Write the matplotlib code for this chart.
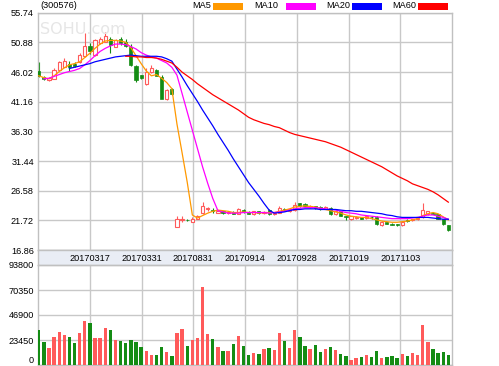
import numpy as np
import matplotlib
matplotlib.use("Agg")
import matplotlib.pyplot as plt

# ---------------- data ----------------
title = "(300576)"
date_labels = ["20170317", "20170331", "20170831", "20170914", "20170928", "20171019", "20171103"]
price_ticks = [55.74, 50.88, 46.02, 41.16, 36.30, 31.44, 26.58, 21.72, 16.86]
vol_ticks = [0, 23450, 46900, 70350, 93800]

opens = [46.2, 45.2, 44.7, 44.9, 46.4, 46.9, 47.4, 47.4, 47.7, 48.6,
         50.3, 48.8, 50.7, 51.0, 51.5, 50.2, 51.4, 51.0, 50.2, 47.0,
         45.5, 44.0, 46.1, 46.3, 45.2, 41.6, 43.2, 20.7, 21.7, 21.85,
         21.5, 22.0, 22.9, 23.5, 23.4, 23.0, 23.2, 22.9, 23.1, 22.8,
         23.4, 23.1, 22.7, 23.2, 22.9, 23.4, 22.7, 23.0, 23.6, 23.2,
         23.4, 24.5, 24.4, 23.9, 24.0, 23.9, 23.6, 23.8, 22.7, 23.2,
         22.4, 21.9, 22.1, 22.2, 22.1, 22.3, 22.3, 20.9, 21.4, 21.2,
         21.1, 20.9, 21.8, 21.7, 21.9, 22.2, 22.7, 23.0, 22.7, 21.9,
         20.9]
closes = [45.4, 44.9, 45.0, 46.4, 47.7, 47.9, 46.9, 47.0, 48.8, 50.3,
          49.5, 51.3, 51.5, 51.9, 50.4, 51.3, 50.8, 50.3, 47.2, 44.7,
          45.1, 46.1, 46.7, 45.4, 41.6, 43.0, 42.5, 21.9, 21.9, 21.7,
          22.0, 22.4, 24.0, 23.7, 23.25, 23.2, 22.9, 23.1, 22.8, 23.5,
          23.1, 22.8, 23.2, 22.9, 23.1, 22.7, 23.0, 23.8, 23.4, 23.5,
          24.3, 24.1, 24.1, 24.1, 23.7, 23.5, 23.9, 22.7, 23.2, 22.5,
          22.2, 22.4, 22.3, 22.0, 22.4, 22.2, 21.1, 21.5, 21.2, 21.0,
          20.9, 21.5, 21.6, 21.9, 22.1, 23.4, 23.2, 22.8, 22.0, 21.1,
          20.2]
highs = [47.7, 45.4, 45.2, 46.6, 47.9, 48.3, 47.9, 47.6, 49.1, 52.4,
         50.7, 51.5, 51.8, 52.5, 51.8, 51.5, 51.8, 51.4, 50.6, 47.2,
         45.6, 46.7, 47.1, 46.5, 45.6, 43.3, 43.4, 22.4, 22.5, 21.9,
         22.2, 22.6, 24.8, 23.9, 23.7, 23.3, 23.3, 23.3, 23.2, 23.7,
         23.5, 23.2, 23.3, 23.3, 23.2, 23.5, 23.1, 24.0, 23.7, 23.6,
         24.7, 24.6, 24.5, 24.2, 24.1, 24.0, 24.1, 23.9, 23.3, 23.3,
         22.5, 22.5, 22.4, 22.3, 22.5, 22.4, 22.4, 21.6, 21.5, 21.3,
         21.2, 21.6, 21.9, 22.0, 22.2, 24.5, 23.3, 23.1, 22.8, 22.0,
         21.0]
lows = [45.2, 44.7, 44.6, 44.8, 46.3, 46.8, 46.2, 46.8, 47.5, 48.4,
        49.0, 48.6, 50.6, 50.9, 49.1, 50.1, 50.4, 50.2, 47.0, 44.4,
        44.9, 43.9, 45.9, 45.6, 41.7, 41.5, 42.2, 20.6, 21.4, 21.6,
        21.4, 21.9, 22.8, 23.3, 22.9, 22.9, 22.8, 22.8, 22.7, 22.7,
        23.0, 22.7, 22.6, 22.8, 22.8, 22.6, 22.6, 22.9, 23.2, 23.1,
        23.3, 23.9, 24.0, 23.8, 23.6, 23.4, 23.5, 22.6, 22.6, 22.4,
        21.7, 21.8, 21.9, 21.9, 22.0, 22.0, 21.0, 20.8, 21.1, 20.9,
        20.8, 20.8, 21.5, 21.6, 21.8, 22.1, 22.6, 22.7, 21.9, 21.0,
        19.9]
volumes = [32800, 21300, 15600, 26600, 31300, 28100, 26600, 20300, 30300, 41300,
           39700, 25600, 25000, 34400, 32800, 23500, 22800, 20300, 23500, 21900,
           16600, 13100, 9400, 9400, 17200, 12500, 8400, 29700, 33500, 18100,
           23500, 25000, 73000, 29100, 24400, 17200, 13100, 13100, 19400, 27200,
           18100, 9400, 11600, 10000, 15300, 16300, 14100, 30300, 22800, 16300,
           32800, 26600, 17800, 15300, 18400, 12500, 15300, 16900, 14100, 10600,
           8400, 4700, 6300, 7800, 9100, 7800, 13400, 6300, 7800, 8400,
           6300, 10000, 8400, 11600, 9400, 37500, 21600, 14700, 11600, 12200,
           9400]
nan = np.nan
ma5 = [45.4, 45.1, 44.9, 45.4, 46.1, 46.7, 47.2, 47.4, 47.7, 48.4,
       49.1, 49.9, 50.6, 51.1, 51.2, 51.2, 51.1, 50.9, 50.0, 48.7,
       47.4, 46.2, 45.4, 45.6, 45.0, 44.3, 43.3, 37.5, 32.8, 28.0,
       22.6, 22.1, 22.5, 22.9, 23.2, 23.4, 23.3, 23.2, 23.0, 23.0,
       23.1, 23.0, 23.0, 22.9, 23.0, 23.0, 23.0, 23.2, 23.4, 23.6,
       23.9, 24.0, 24.1, 24.0, 23.9, 23.7, 23.5, 23.3, 23.1, 22.9,
       22.6, 22.4, 22.3, 22.2, 22.2, 22.0, 21.8, 21.6, 21.5, 21.4,
       21.4, 21.5, 21.6, 21.8, 22.0, 22.5, 22.8, 23.0, 22.8, 22.3,
       21.8]
ma10 = [nan, 44.9, 45.0, 45.3, 45.6, 45.9, 46.1, 46.3, 46.6, 47.2,
        47.9, 48.7, 49.4, 49.9, 50.3, 50.6, 50.6, 50.5, 50.2, 49.8,
        49.2, 48.8, 48.5, 48.3, 47.9, 47.5, 46.8, 45.5, 42.5, 39.5,
        36.5, 33.5, 30.5, 27.8, 25.3, 23.3, 23.1, 22.9, 22.9, 22.9,
        23.0, 23.0, 23.0, 23.0, 23.0, 22.9, 23.0, 23.1, 23.2, 23.4,
        23.6, 23.7, 23.8, 23.8, 23.8, 23.7, 23.6, 23.5, 23.4, 23.2,
        23.0, 22.9, 22.8, 22.6, 22.5, 22.4, 22.3, 22.2, 22.1, 22.0,
        22.0, 22.0, 22.0, 22.1, 22.2, 22.4, 22.6, 22.6, 22.4, 22.2,
        21.9]
ma20 = [nan, nan, nan, nan, nan, nan, 46.6, 46.8, 47.0, 47.2,
        47.4, 47.7, 47.9, 48.1, 48.3, 48.5, 48.6, 48.7, 48.8, 48.7,
        48.6, 48.6, 48.6, 48.6, 48.5, 48.2, 47.8, 46.5, 45.2, 43.8,
        42.5, 41.2, 39.8, 38.5, 37.2, 35.8, 34.5, 33.2, 31.8, 30.5,
        29.2, 27.9, 26.8, 25.7, 24.5, 23.4, 22.9, 23.0, 23.1, 23.3,
        23.5, 23.5, 23.6, 23.6, 23.6, 23.5, 23.5, 23.5, 23.5, 23.4,
        23.3, 23.3, 23.2, 23.2, 23.1, 23.0, 22.9, 22.8, 22.6, 22.5,
        22.3, 22.2, 22.2, 22.2, 22.2, 22.2, 22.2, 22.1, 22.0, 21.9,
        21.9]
ma60 = [nan, nan, nan, nan, nan, nan, nan, nan, nan, nan,
        nan, nan, nan, nan, nan, nan, nan, 48.6, 48.6, 48.5,
        48.5, 48.4, 48.4, 48.3, 48.1, 47.8, 47.5, 46.8, 46.0, 45.4,
        44.8, 44.1, 43.5, 42.9, 42.3, 41.8, 41.3, 40.8, 40.3, 39.8,
        39.2, 38.6, 38.2, 37.9, 37.6, 37.4, 37.1, 36.9, 36.5, 36.1,
        35.8, 35.6, 35.4, 35.2, 35.0, 34.8, 34.6, 34.3, 34.0, 33.7,
        33.3, 32.9, 32.5, 32.1, 31.7, 31.3, 30.9, 30.5, 30.0, 29.5,
        29.0, 28.6, 28.2, 27.7, 27.4, 27.1, 26.8, 26.4, 25.9, 25.3,
        24.7]
ma_names = ["MA5", "MA10", "MA20", "MA60"]

# ---------------- style ----------------
W, H = 499, 366
RED = "#ff5a5a"
GREEN = "#148c14"
GRID = "#c8c8c8"
FRAME = "#c0c0c0"
MA_COLORS = ["#ff9900", "#ff00ff", "#0000ff", "#ff0000"]
FONT = "Liberation Sans"
FS = 6.6

fig = plt.figure(figsize=(W / 100, H / 100), dpi=100)
fig.patch.set_facecolor("white")

def fx(px):
    return px / W

def fy(py):
    return 1 - py / H

L, R = 38, 452
P_TOP, P_BOT = 12.7, 250
V_TOP, V_BOT = 265, 365

n = len(closes)
x = np.arange(n)
XLIM = (-0.14, 80.72)
grid_x = np.linspace(XLIM[0], XLIM[1], 9)[1:-1]

ax = fig.add_axes([fx(L), fy(P_BOT), fx(R - L), (P_BOT - P_TOP) / H])
axb = fig.add_axes([fx(L), fy(V_TOP), fx(R - L), (V_TOP - P_BOT) / H])
axv = fig.add_axes([fx(L), fy(V_BOT), fx(R - L), (V_BOT - V_TOP) / H])

for a in (ax, axb, axv):
    a.set_xlim(*XLIM)
    for s in a.spines.values():
        s.set_color(FRAME)
        s.set_linewidth(1.0)
    a.tick_params(length=0, labelsize=FS, colors="black", pad=3)
    a.set_xticks([])

# price panel
ax.set_ylim(price_ticks[-1], price_ticks[0])
ax.set_yticks(price_ticks)
ax.set_yticklabels([f"{t:.2f}" for t in price_ticks], fontfamily=FONT)
ax.yaxis.grid(True, color=GRID, lw=1.0, zorder=0)
for gx in grid_x:
    ax.axvline(gx, color=GRID, lw=1.0, zorder=0)

o = np.array(opens); c = np.array(closes); h = np.array(highs); lo = np.array(lows)
up = c >= o
bw = 0.62
for i in range(n):
    col = RED if up[i] else GREEN
    ax.vlines(x[i], lo[i], h[i], color=col, lw=0.8, zorder=2)
    bottom = min(o[i], c[i])
    height = max(abs(c[i] - o[i]), 0.08)
    if up[i]:
        ax.bar(x[i], height, bw, bottom=bottom, facecolor="white", edgecolor=col, lw=0.8, zorder=3)
    else:
        ax.bar(x[i], height, bw, bottom=bottom, facecolor=col, edgecolor=col, lw=0.5, zorder=3)

for ma, colr in zip([ma5, ma10, ma20, ma60], MA_COLORS):
    ax.plot(x, ma, color=colr, lw=0.9, zorder=4)

fig.text(fx(40), fy(29), "SOHU.com", fontsize=11.5, color="#e6e6e6", fontfamily="DejaVu Sans",
         va="center", ha="left", zorder=0)

# date band
axb.set_facecolor("#e9edf5")
axb.set_ylim(0, 1)
axb.set_yticks([])
for gx, lab in zip(grid_x, date_labels):
    axb.text(gx, 0.45, lab, ha="center", va="center", fontsize=FS, fontfamily=FONT)

# volume panel
axv.set_ylim(0, vol_ticks[-1])
axv.set_yticks(vol_ticks)
axv.set_yticklabels([str(t) for t in vol_ticks], fontfamily=FONT)
axv.get_yticklabels()[0].set_verticalalignment("bottom")
axv.yaxis.grid(True, color=GRID, lw=1.0, zorder=0)
for gx in grid_x:
    axv.axvline(gx, color=GRID, lw=1.0, zorder=0)
vcols = [RED if u else GREEN for u in up]
axv.bar(x, volumes, 0.66, color=vcols, zorder=3)

# title and legend
fig.text(fx(40), fy(6), title, fontsize=FS, fontfamily=FONT, va="center", ha="left")
leg_text_x = [192, 254, 326, 392]
leg_rect_x = [213, 286, 352, 418]
for name, colr, tx, rx in zip(ma_names, MA_COLORS, leg_text_x, leg_rect_x):
    fig.text(fx(tx), fy(6), name, fontsize=FS, fontfamily=FONT, va="center", ha="left")
    fig.patches.append(plt.Rectangle((fx(rx), fy(10)), fx(30), 7 / H, transform=fig.transFigure,
                                     facecolor=colr, edgecolor="none"))

fig.savefig("out.png", dpi=100)
